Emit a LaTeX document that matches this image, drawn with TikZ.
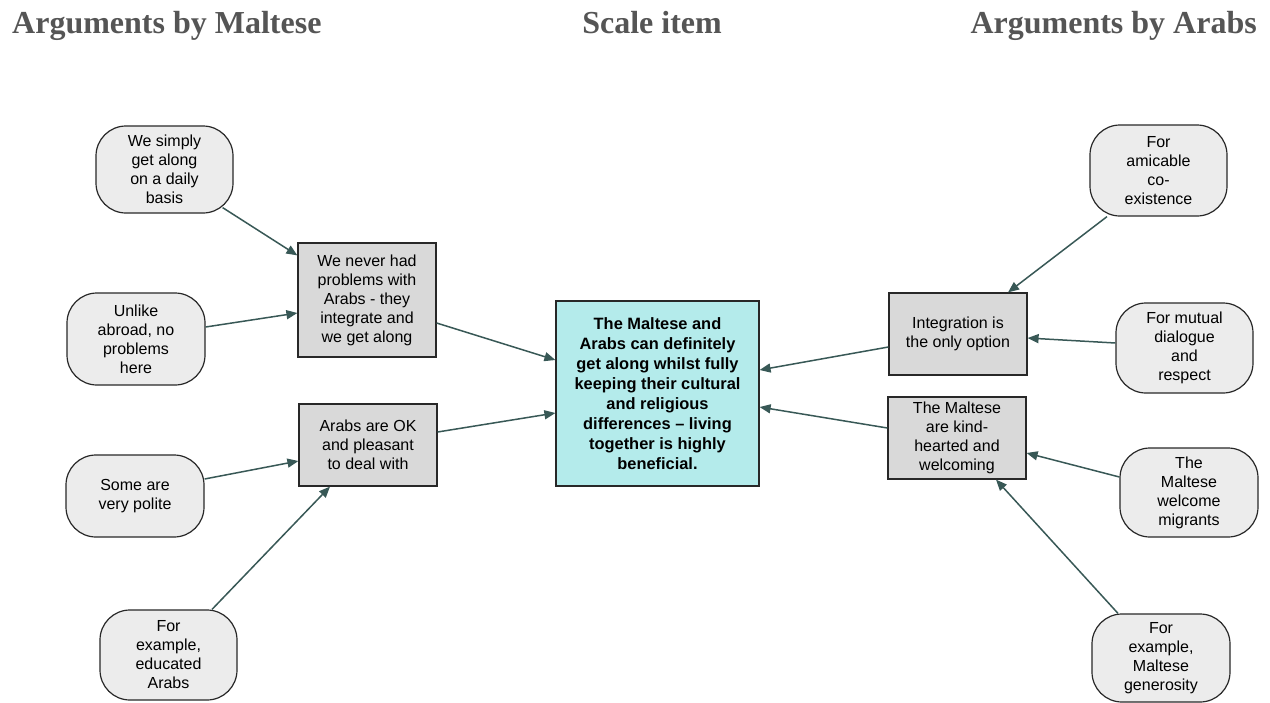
\documentclass[tikz,border=0pt]{standalone}
\usepackage{fontspec}
\setmainfont{Liberation Sans}
\newfontfamily\headfont{Liberation Serif}
\usetikzlibrary{arrows.meta}
\definecolor{linkcol}{RGB}{56,88,86}
\definecolor{headcol}{RGB}{85,85,85}
\definecolor{ovalfill}{RGB}{236,236,236}
\definecolor{boxfill}{RGB}{217,217,217}
\definecolor{mainfill}{RGB}{180,235,235}
\definecolor{edgecol}{RGB}{40,40,40}
\begin{document}
\begin{tikzpicture}[x=1pt,y=-1pt,
  head/.style={font=\headfont\bfseries\fontsize{32}{36}\selectfont, text=headcol, inner sep=0pt},
  reason/.style={draw=edgecol, line width=1.2pt, fill=ovalfill, rounded corners=30pt,
    align=center, inner sep=0pt, font=\fontsize{16}{19}\selectfont},
  claim/.style={draw=edgecol, line width=1.2pt, fill=boxfill,
    align=center, inner sep=0pt, font=\fontsize{16}{19}\selectfont},
  mainbox/.style={draw=edgecol, line width=1.2pt, fill=mainfill,
    align=center, inner sep=0pt, font=\bfseries\fontsize{16.4}{20}\selectfont},
  link/.style={draw=linkcol, line width=1.5pt, -{Triangle[length=11pt,width=9pt]}}
]
\useasboundingbox (0,0) rectangle (1270,702);

% column headings
\node[head, anchor=base west] (hl) at (12,33) {Arguments by Maltese};
\node[head, anchor=base] (hc) at (652,33) {Scale item};
\node[head, anchor=base east] (hr) at (1257,33) {Arguments by Arabs};

% central statement
\node[mainbox, minimum width=203pt, minimum height=185pt] (cen) at (657.5,393.5)
  {The Maltese and\\Arabs can definitely\\get along whilst fully\\keeping their cultural\\and religious\\differences – living\\together is highly\\beneficial.};

% left side
\node[claim, minimum width=138pt, minimum height=114pt] (nh) at (367,300)
  {We never had\\problems with\\Arabs - they\\integrate and\\we get along};
\node[claim, minimum width=138pt, minimum height=82pt] (ok) at (368,445)
  {Arabs are OK\\and pleasant\\to deal with};
\node[reason, minimum width=137pt, minimum height=87pt] (ws) at (164.5,169.5)
  {We simply\\get along\\on a daily\\basis};
\node[reason, minimum width=138pt, minimum height=92pt] (ul) at (136,339)
  {Unlike\\abroad, no\\problems\\here};
\node[reason, minimum width=138pt, minimum height=82pt] (sp) at (135,496)
  {Some are\\very polite};
\node[reason, minimum width=137pt, minimum height=90pt] (ea) at (168.5,655)
  {For\\example,\\educated\\Arabs};

% right side
\node[claim, minimum width=138pt, minimum height=82pt] (io) at (958,334)
  {Integration is\\the only option};
\node[claim, minimum width=138pt, minimum height=82pt] (kh) at (957,438)
  {The Maltese\\are kind-\\hearted and\\welcoming};
\node[reason, minimum width=137pt, minimum height=91pt] (ac) at (1158.5,170.5)
  {For\\amicable\\co-\\existence};
\node[reason, minimum width=137pt, minimum height=90pt] (md) at (1184.5,348)
  {For mutual\\dialogue\\and\\respect};
\node[reason, minimum width=138pt, minimum height=89pt] (wm) at (1189,492.5)
  {The\\Maltese\\welcome\\migrants};
\node[reason, minimum width=138pt, minimum height=88pt] (mg) at (1161,658)
  {For\\example,\\Maltese\\generosity};

% connectors, left
\draw[link] ([xshift=-11pt,yshift=6pt]ws.south east) -- ([yshift=-13pt]nh.north west);
\draw[link] ([yshift=12pt]ul.east) -- ([yshift=-13pt]nh.west);
\draw[link] ([yshift=17pt]sp.east) -- ([yshift=-16pt]ok.west);
\draw[link] ([xshift=43.5pt]ea.north) -- ([xshift=-38pt]ok.south);
\draw[link] ([yshift=-23pt]nh.east) -- ([yshift=33.5pt]cen.west);
\draw[link] ([yshift=13pt]ok.east) -- ([yshift=-19.5pt]cen.west);

% connectors, right
\draw[link] ([xshift=-51.5pt]ac.south) -- ([xshift=50pt]io.north);
\draw[link] ([yshift=5pt]md.west) -- ([yshift=-4pt]io.east);
\draw[link] ([yshift=15.5pt]wm.west) -- ([yshift=-15pt]kh.east);
\draw[link] ([xshift=-43pt]mg.north) -- ([xshift=39pt]kh.south);
\draw[link] ([yshift=-13pt]io.west) -- ([yshift=23.5pt]cen.east);
\draw[link] ([yshift=10pt]kh.west) -- ([yshift=-13.5pt]cen.east);
\end{tikzpicture}
\end{document}
